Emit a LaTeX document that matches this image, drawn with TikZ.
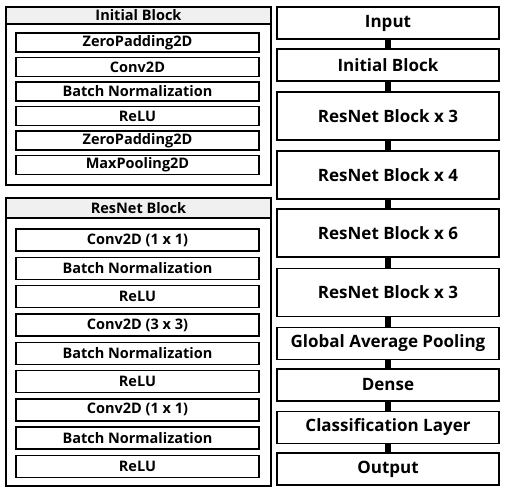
\documentclass[tikz,border=0pt]{standalone}
\usepackage{fontspec}
\setmainfont{Open Sans}
\usepackage{tikz}
\usetikzlibrary{positioning}

\tikzset{
  layer/.style={draw=black, line width=1.4pt, fill=white, minimum width=243pt, inner sep=0pt, font=\fontsize{14.5}{15}\selectfont\bfseries},
  stage/.style={draw=black, line width=1.4pt, fill=white, minimum width=222pt, inner sep=0pt, font=\fontsize{17}{18}\selectfont\bfseries},
  frame/.style={draw=black, line width=1.4pt},
  header/.style={draw=black, line width=1.4pt, fill=gray!12},
  link/.style={line width=5.5pt, black}
}

\begin{document}
\begin{tikzpicture}[x=1pt, y=-1pt]
  \useasboundingbox (0,0) rectangle (506,492);

  % --- Initial Block ---
  \draw[frame] (6,7) rectangle (271,185);
  \draw[header] (6,7) rectangle (271,24);
  \node[font=\fontsize{14.5}{15}\selectfont\bfseries] (ibtitle) at (138.5,15.5) {Initial Block};
  \node[layer, minimum height=19pt] (ib1) at (137.5,42.5) {ZeroPadding2D};
  \node[layer, minimum height=19pt] (ib2) at (137.5,67) {Conv2D};
  \node[layer, minimum height=19pt] (ib3) at (137.5,91.5) {Batch Normalization};
  \node[layer, minimum height=19pt] (ib4) at (137.5,116) {ReLU};
  \node[layer, minimum height=19pt] (ib5) at (137.5,140.5) {ZeroPadding2D};
  \node[layer, minimum height=19pt] (ib6) at (137.5,165) {MaxPooling2D};

  % --- ResNet Block ---
  \draw[frame] (6,198) rectangle (271,486);
  \draw[header] (6,198) rectangle (271,218);
  \node[font=\fontsize{14.5}{15}\selectfont\bfseries] (rbtitle) at (138.5,208) {ResNet Block};
  \node[layer, minimum height=22pt] (rb1) at (137.5,240) {Conv2D (1 x 1)};
  \node[layer, minimum height=22pt] (rb2) at (137.5,268.3) {Batch Normalization};
  \node[layer, minimum height=22pt] (rb3) at (137.5,296.6) {ReLU};
  \node[layer, minimum height=22pt] (rb4) at (137.5,324.9) {Conv2D (3 x 3)};
  \node[layer, minimum height=22pt] (rb5) at (137.5,353.2) {Batch Normalization};
  \node[layer, minimum height=22pt] (rb6) at (137.5,381.5) {ReLU};
  \node[layer, minimum height=22pt] (rb7) at (137.5,409.8) {Conv2D (1 x 1)};
  \node[layer, minimum height=22pt] (rb8) at (137.5,438.1) {Batch Normalization};
  \node[layer, minimum height=22pt] (rb9) at (137.5,466.4) {ReLU};

  % --- Modelo completo ---
  \node[stage, minimum height=32pt] (input) at (388,23) {Input};
  \node[stage, minimum height=32pt] (initial) at (388,65) {Initial Block};
  \node[stage, minimum height=48pt] (res1) at (388,116) {ResNet Block x 3};
  \node[stage, minimum height=48pt] (res2) at (388,175) {ResNet Block x 4};
  \node[stage, minimum height=48pt] (res3) at (388,233) {ResNet Block x 6};
  \node[stage, minimum height=48pt] (res4) at (388,292.5) {ResNet Block x 3};
  \node[stage, minimum height=32pt] (gap) at (388,343.5) {Global Average Pooling};
  \node[stage, minimum height=32pt] (dense) at (388,385) {Dense};
  \node[stage, minimum height=32pt] (classif) at (388,427.5) {Classification Layer};
  \node[stage, minimum height=32pt] (output) at (388,469) {Output};

  % Ligações entre as etapas
  \foreach \a/\b in {input/initial, initial/res1, res1/res2, res2/res3, res3/res4, res4/gap, gap/dense, dense/classif, classif/output}
    \draw[link] (\a.south) -- (\b.north);

\end{tikzpicture}
\end{document}
